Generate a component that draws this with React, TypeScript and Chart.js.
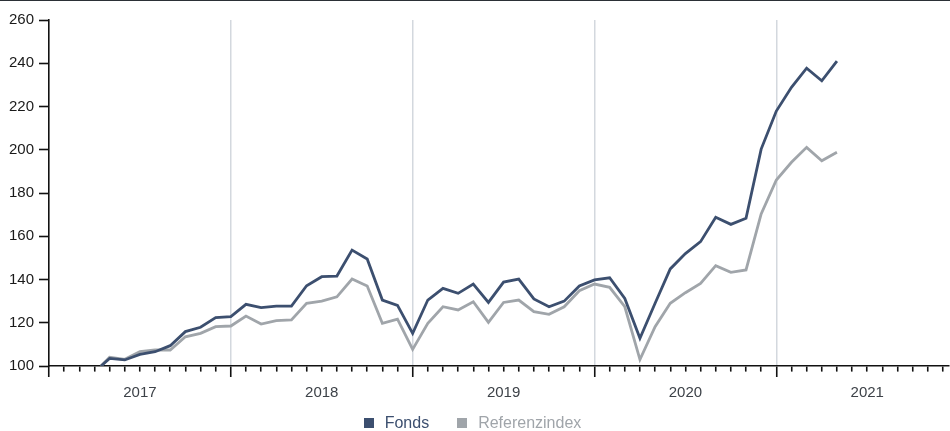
import React, { useEffect, useRef } from 'react';
import { Chart, registerables } from 'chart.js';

Chart.register(...registerables);

const dates = [
  '2017-04-14', '2017-05-01', '2017-06-01', '2017-07-01', '2017-08-01', '2017-09-01', '2017-10-01', '2017-11-01', '2017-12-01',
  '2018-01-01', '2018-02-01', '2018-03-01', '2018-04-01', '2018-05-01', '2018-06-01', '2018-07-01', '2018-08-01', '2018-09-01', '2018-10-01', '2018-11-01', '2018-12-01',
  '2019-01-01', '2019-02-01', '2019-03-01', '2019-04-01', '2019-05-01', '2019-06-01', '2019-07-01', '2019-08-01', '2019-09-01', '2019-10-01', '2019-11-01', '2019-12-01',
  '2020-01-01', '2020-02-01', '2020-03-01', '2020-04-01', '2020-05-01', '2020-06-01', '2020-07-01', '2020-08-01', '2020-09-01', '2020-10-01', '2020-11-01', '2020-12-01',
  '2021-01-01', '2021-02-01', '2021-03-01', '2021-04-01', '2021-05-01',
];

const fonds = [
  100, 103.5, 102.8, 105.4, 106.6, 109.4, 115.9, 117.9, 122.4,
  122.8, 128.5, 127, 127.7, 127.7, 137.1, 141.3, 141.6, 153.6, 149.5, 130.5, 128,
  115.1, 130.5, 135.9, 133.6, 137.9, 129.4, 138.8, 140.2, 131, 127.4, 130, 137,
  139.8, 140.8, 131.2, 112.8, 129, 144.9, 152, 157.5, 168.8, 165.5, 168.3, 200.3,
  217.9, 228.9, 237.7, 231.9, 241,
];

const referenz = [
  100, 104, 103.1, 106.6, 107.4, 107.4, 113.5, 115.1, 118.2,
  118.5, 123.1, 119.4, 121, 121.3, 129, 130, 132, 140.2, 137, 119.7, 121.7,
  107.7, 119.7, 127.4, 125.9, 129.7, 120.2, 129.4, 130.5, 125.1, 123.9, 127.4, 134.8,
  137.9, 136.4, 127.4, 103, 118.2, 129, 133.9, 138.2, 146.4, 143.3, 144.4, 170.3,
  186, 194.2, 201.1, 194.9, 198.8,
];

const yearLabels = ['2017', '2018', '2019', '2020', '2021'];
const yTicks = [100, 120, 140, 160, 180, 200, 220, 240, 260];
const seriesNames = ['Fonds', 'Referenzindex'];
const seriesColors = ['#3c4f6f', '#a0a5aa'];

const FONT = "'Liberation Sans', Arial, Helvetica, sans-serif";

function monthIndex(d: string): number {
  const [y, m, day] = d.split('-').map(Number);
  const dim = new Date(y, m, 0).getDate();
  return (y - 2017) * 12 + (m - 1) + (day - 1) / dim;
}

export default function App() {
  const ref = useRef<HTMLCanvasElement | null>(null);

  useEffect(() => {
    if (!ref.current) return;
    const xs = dates.map(monthIndex);
    const chart = new Chart(ref.current, {
      type: 'line',
      data: {
        datasets: [
          {
            label: seriesNames[0],
            data: xs.map((x, i) => ({ x, y: fonds[i] })),
            borderColor: seriesColors[0],
            backgroundColor: seriesColors[0],
            borderWidth: 2.8,
            pointRadius: 0,
            tension: 0,
            borderJoinStyle: 'miter',
          },
          {
            label: seriesNames[1],
            data: xs.map((x, i) => ({ x, y: referenz[i] })),
            borderColor: seriesColors[1],
            backgroundColor: seriesColors[1],
            borderWidth: 2.8,
            pointRadius: 0,
            tension: 0,
            borderJoinStyle: 'miter',
          },
        ],
      },
      options: {
        animation: false,
        responsive: false,
        maintainAspectRatio: false,
        layout: { padding: { top: 20, left: 0, right: 0, bottom: 0 } },
        plugins: { legend: { display: false }, tooltip: { enabled: false } },
        scales: {
          x: {
            type: 'linear',
            min: 0,
            max: 59.4,
            afterFit: (s: any) => { s.height = 65; },
            border: { display: true, color: '#111111', width: 1.6 },
            grid: {
              drawOnChartArea: true,
              color: (ctx: any) =>
                ctx.tick && ctx.tick.value % 12 === 0 && ctx.tick.value > 0 ? '#d3d8de' : 'rgba(0,0,0,0)',
              lineWidth: 1.5,
              tickLength: 11,
              tickColor: '#111111',
              tickWidth: 1.6,
              tickBorderDash: (ctx: any) => (ctx.tick && ctx.tick.value % 12 === 0 ? [] : [5, 40]),
            },
            ticks: {
              stepSize: 1,
              autoSkip: false,
              maxRotation: 0,
              includeBounds: false,
              padding: 7,
              color: '#3d4248',
              font: { family: FONT, size: 15 },
              callback: (v: any) => {
                const n = Number(v);
                return n % 12 === 6 ? yearLabels[(n - 6) / 12] ?? '' : '';
              },
            },
          },
          y: {
            min: yTicks[0],
            max: yTicks[yTicks.length - 1],
            afterFit: (s: any) => { s.width = 49; },
            border: { display: true, color: '#111111', width: 1.6 },
            grid: {
              drawOnChartArea: false,
              tickLength: 10,
              tickColor: '#111111',
              tickWidth: 1.6,
            },
            afterBuildTicks: (s: any) => { s.ticks = yTicks.map((v) => ({ value: v })); },
            ticks: {
              padding: 5,
              color: '#1a1a1a',
              font: { family: FONT, size: 15 },
            },
          },
        },
      },
    });
    return () => chart.destroy();
  }, []);

  return (
    <div style={{ position: 'absolute', left: 0, top: 0, width: 950, height: 431, background: '#fff', overflow: 'hidden' }}>
      <div style={{ position: 'absolute', left: 0, top: 0, width: 950, height: 1, background: '#2b3036' }} />
      <canvas ref={ref} width={950} height={431} style={{ position: 'absolute', left: 0, top: 0, width: 950, height: 431 }} />
      <div
        style={{
          position: 'absolute',
          left: 0,
          top: 415,
          width: 950,
          height: 16,
          display: 'flex',
          justifyContent: 'center',
          alignItems: 'center',
          fontFamily: FONT,
          fontSize: 16,
          lineHeight: '16px',
        }}
      >
        <div style={{ display: 'flex', alignItems: 'center', marginLeft: -5 }}>
          {seriesNames.map((name, i) => (
            <div key={name} style={{ display: 'flex', alignItems: 'center', marginLeft: i === 0 ? 0 : 28 }}>
              <span style={{ display: 'inline-block', width: 10, height: 10, background: seriesColors[i], marginRight: 11 }} />
              <span style={{ color: seriesColors[i] }}>{name}</span>
            </div>
          ))}
        </div>
      </div>
    </div>
  );
}
